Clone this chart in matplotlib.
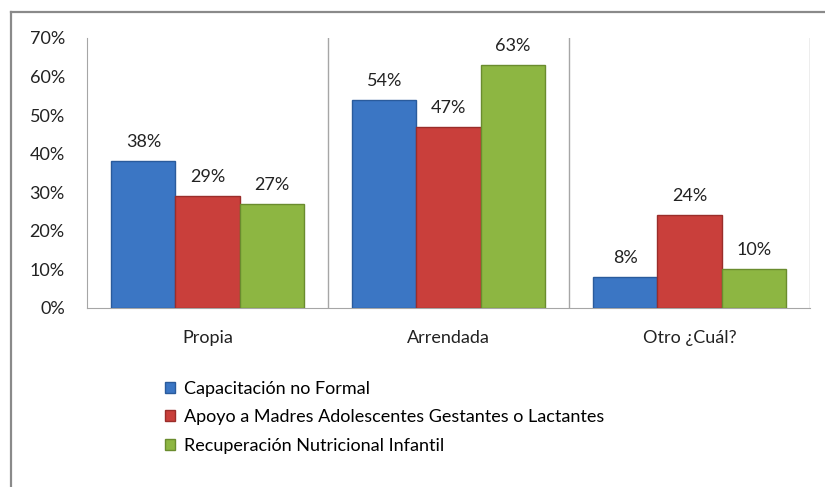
import numpy as np
import matplotlib
matplotlib.use("Agg")
import matplotlib.pyplot as plt
from matplotlib.lines import Line2D

# data
categories = ["Propia", "Arrendada", "Otro ¿Cuál?"]
series_names = ["Capacitación no Formal",
                "Apoyo a Madres Adolescentes Gestantes o Lactantes",
                "Recuperación Nutricional Infantil"]
capacitacion = [38, 54, 8]
apoyo_madres = [29, 47, 24]
recuperacion = [27, 63, 10]
y_ticks = [0, 10, 20, 30, 40, 50, 60, 70]

face_colors = ["#3B76C4", "#C93F3B", "#8DB642"]
edge_colors = ["#2A5B9C", "#9A2D2A", "#6A8C2E"]

plt.rcParams['font.family'] = ['Lato', 'DejaVu Sans']
plt.rcParams['font.size'] = 13

fig = plt.figure(figsize=(8.25, 4.87), dpi=100)
ax = fig.add_axes([87 / 825, 1 - 308 / 487, 723 / 825, 270 / 487])

# chart border (left and top visible, rest cut off)
border = "#8A8A8A"
fig.add_artist(Line2D([11 / 825, 11 / 825], [0, 1 - 12 / 487], transform=fig.transFigure,
                      color=border, lw=1.6))
fig.add_artist(Line2D([11 / 825, 1], [1 - 12 / 487, 1 - 12 / 487], transform=fig.transFigure,
                      color=border, lw=1.6))

x = np.arange(len(categories))
width = 0.266
all_series = [capacitacion, apoyo_madres, recuperacion]
for i, vals in enumerate(all_series):
    pos = x + (i - 1) * width
    bars = ax.bar(pos, vals, width, color=face_colors[i], edgecolor=edge_colors[i],
                  linewidth=1.0, label=series_names[i], zorder=3)
    for b, v in zip(bars, vals):
        ax.annotate("%d%%" % v, (b.get_x() + b.get_width() / 2, b.get_height()),
                    xytext=(0, 8), textcoords="offset points",
                    ha="center", va="bottom", fontsize=13, color="#222222")

ax.set_xlim(-0.5, 2.5)
ax.set_ylim(0, 70)
ax.set_yticks(y_ticks)
ax.set_yticklabels(["%d%%" % t for t in y_ticks])
ax.set_xticks(x)
ax.set_xticklabels(categories)
ax.tick_params(axis="y", length=0, pad=16, labelcolor="#222222")
ax.tick_params(axis="x", length=0, pad=16, labelcolor="#222222")

# category separators
for sep in [0.5, 1.5, 2.5]:
    ax.axvline(sep, color="#A6A6A6", lw=1.0, zorder=1)

for s in ["top", "right"]:
    ax.spines[s].set_visible(False)
ax.spines["left"].set_color("#A6A6A6")
ax.spines["bottom"].set_color("#A6A6A6")

fig.legend(loc="upper left", bbox_to_anchor=(156 / 825, 1 - 372 / 487),
           frameon=False, fontsize=13, handlelength=0.55, handleheight=0.55,
           handletextpad=0.5, labelspacing=0.68, borderpad=0)

fig.savefig("out.png", dpi=100)
